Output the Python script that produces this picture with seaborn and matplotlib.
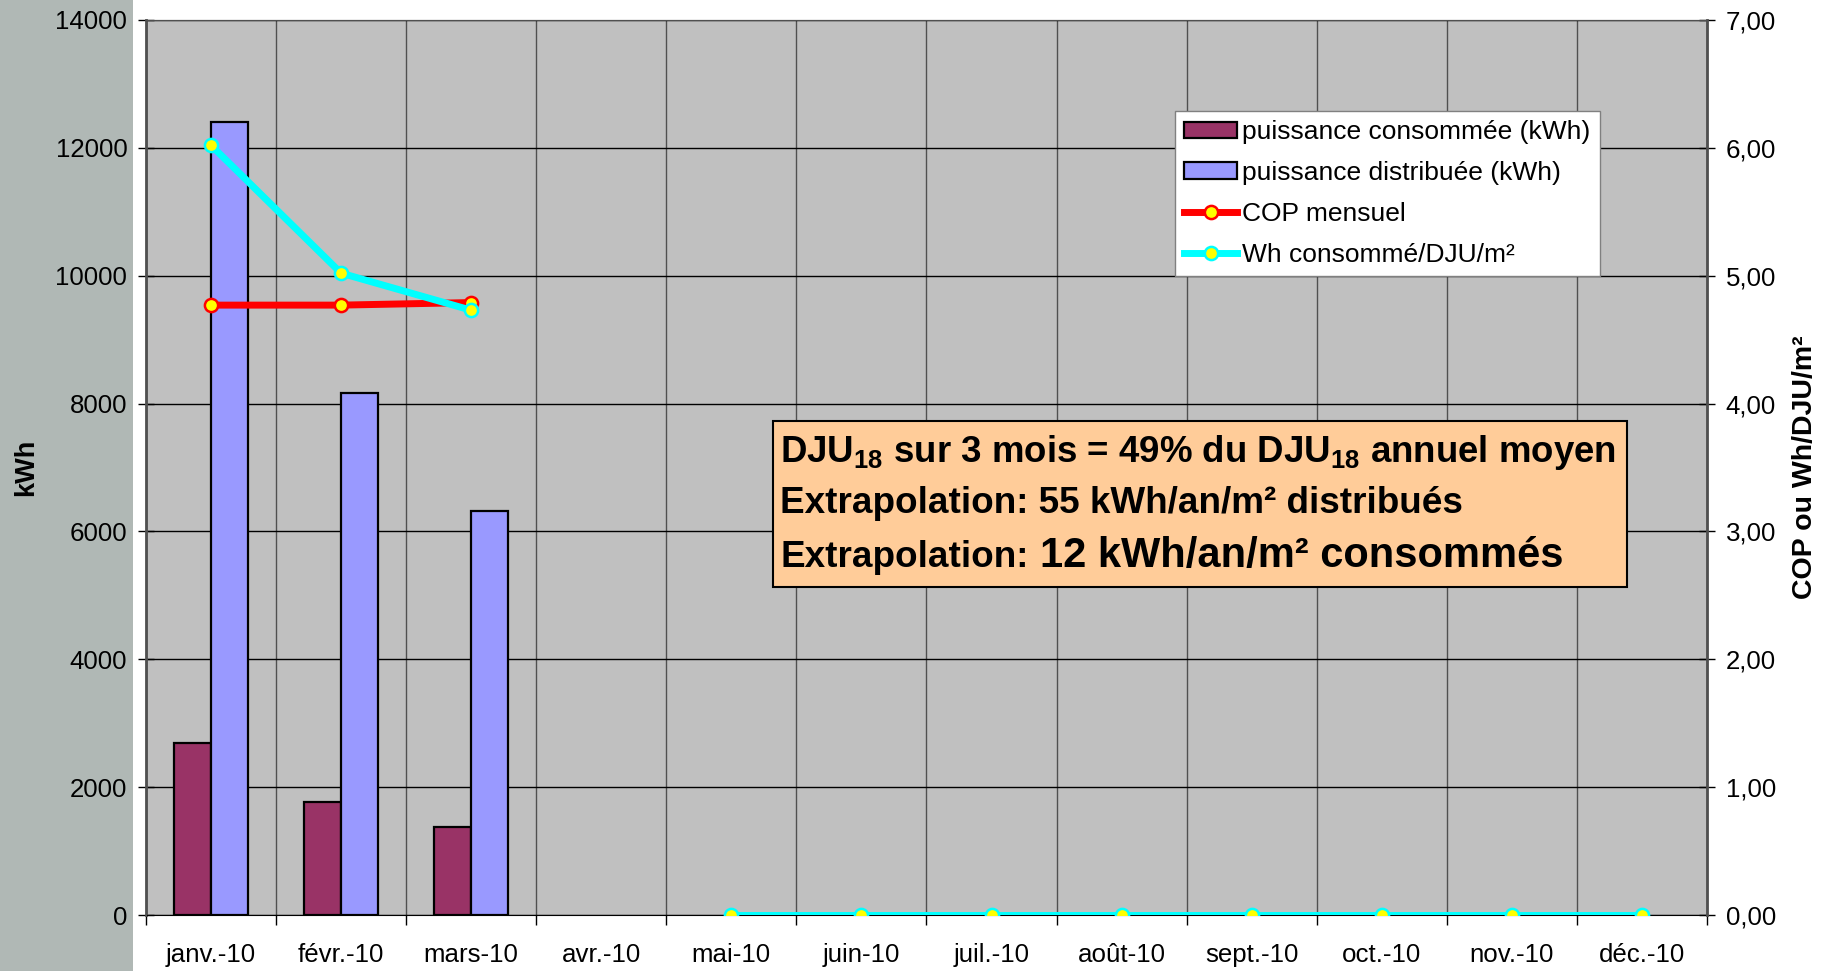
import numpy as np
import pandas as pd
import matplotlib.pyplot as plt
import seaborn as sns
from matplotlib.patches import Patch, Rectangle
from matplotlib.lines import Line2D
from matplotlib.ticker import FuncFormatter, MultipleLocator

plt.switch_backend('Agg')

# Data
months = ['janv.-10', 'févr.-10', 'mars-10', 'avr.-10', 'mai-10', 'juin-10',
          'juil.-10', 'août-10', 'sept.-10', 'oct.-10', 'nov.-10', 'déc.-10']
conso_kwh = [2690, 1770, 1370]
distrib_kwh = [12410, 8170, 6320]
cop_mensuel = [4.77, 4.77, 4.79]
wh_dju_m2 = [6.02, 5.02, 4.73, np.nan, 0, 0, 0, 0, 0, 0, 0, 0]

lbl_conso = 'puissance consommée (kWh)'
lbl_distrib = 'puissance distribuée (kWh)'
lbl_cop = 'COP mensuel'
lbl_wh = 'Wh consommé/DJU/m²'

c_conso = '#993366'
c_distrib = '#9999FF'
c_cop = '#FF0000'
c_wh = '#00FFFF'

plt.rcParams['font.family'] = ['Liberation Sans', 'DejaVu Sans']
plt.rcParams['mathtext.fontset'] = 'custom'
plt.rcParams['mathtext.rm'] = 'Liberation Sans:bold'
plt.rcParams['mathtext.bf'] = 'Liberation Sans:bold'

fig = plt.figure(figsize=(18.29, 9.71), dpi=100)
fig.patches.append(Rectangle((0, 0), 133 / 1829, 1, transform=fig.transFigure,
                             facecolor='#B0B8B5', edgecolor='none', zorder=-5))
ax = fig.add_axes([146 / 1829, 1 - 915 / 971, (1707 - 146) / 1829, (915 - 20) / 971])
ax.set_facecolor('#C0C0C0')

# bars
bars = pd.DataFrame({
    'mois': months[:3] * 2,
    'kwh': conso_kwh + distrib_kwh,
    'serie': [lbl_conso] * 3 + [lbl_distrib] * 3,
})
sns.barplot(data=bars, x='mois', y='kwh', hue='serie', order=months,
            hue_order=[lbl_conso, lbl_distrib],
            palette=[c_conso, c_distrib], width=0.57, gap=0,
            edgecolor='black', linewidth=1.6, saturation=1, legend=False, ax=ax)

ax.set_xlim(-0.5, 11.5)
ax.set_ylim(0, 14000)
ax.yaxis.set_major_locator(MultipleLocator(2000))
ax.set_axisbelow(True)
ax.grid(axis='y', color='black', linewidth=1.0)
ax.set_xticks(np.arange(12))
ax.set_xticklabels(months)
ax.set_xticks(np.arange(-0.5, 12, 1), minor=True)
ax.grid(axis='x', which='minor', color='#505050', linewidth=1.0)
ax.tick_params(axis='x', which='major', length=0, pad=20.5, labelsize=18.6)
ax.tick_params(axis='x', which='minor', length=7, width=1, direction='out')
ax.tick_params(axis='y', length=11, width=1, direction='inout', pad=8, labelsize=18.6)
ax.set_xlabel('')
ax.set_ylabel('')
for s in ['left', 'right', 'top']:
    ax.spines[s].set_color('#505050')
ax.spines['left'].set_linewidth(2)
ax.spines['bottom'].set_color('black')

# lines on secondary axis
ax2 = ax.twinx()
x = np.arange(12)
cop_df = pd.DataFrame({'x': x[:3], 'v': cop_mensuel})
sns.lineplot(data=cop_df, x='x', y='v', color=c_cop, linewidth=5,
             marker='o', markersize=9.5, markerfacecolor='#FFFF00',
             markeredgecolor=c_cop, markeredgewidth=1.8, ax=ax2)
wh = pd.Series(wh_dju_m2)
wh_df = pd.DataFrame({'x': x, 'v': wh, 'seg': wh.isna().cumsum()}).dropna()
sns.lineplot(data=wh_df, x='x', y='v', units='seg', estimator=None,
             color=c_wh, linewidth=5, marker='o', markersize=9.5,
             markerfacecolor='#FFFF00', markeredgecolor=c_wh,
             markeredgewidth=1.8, ax=ax2)
ax2.set_ylim(0, 7)
ax2.set_xlim(-0.5, 11.5)
ax2.yaxis.set_major_locator(MultipleLocator(1))
ax2.yaxis.set_major_formatter(FuncFormatter(lambda v, _: f'{v:.2f}'.replace('.', ',')))
ax2.tick_params(axis='y', length=11, width=1, direction='inout', pad=8, labelsize=18.6)
ax2.set_xlabel('')
ax2.set_ylabel('')
for s in ['left', 'right', 'top']:
    ax2.spines[s].set_color('#505050')
ax2.spines['right'].set_linewidth(2)
ax2.spines['bottom'].set_visible(False)

fig.text(26 / 1829, 0.519, 'kWh', rotation=90, ha='center', va='center',
         fontsize=19.5, fontweight='bold')
fig.text(1805 / 1829, 0.519, 'COP ou Wh/DJU/m²', rotation=90, ha='center',
         va='center', fontsize=20.5, fontweight='bold')

# legend
handles = [
    Patch(facecolor=c_conso, edgecolor='black', linewidth=1.6),
    Patch(facecolor=c_distrib, edgecolor='black', linewidth=1.6),
    Line2D([], [], color=c_cop, linewidth=5, marker='o', markersize=9.5,
           markerfacecolor='#FFFF00', markeredgecolor=c_cop, markeredgewidth=1.8),
    Line2D([], [], color=c_wh, linewidth=5, marker='o', markersize=9.5,
           markerfacecolor='#FFFF00', markeredgecolor=c_wh, markeredgewidth=1.8),
]
leg = ax2.legend(handles, [lbl_conso, lbl_distrib, lbl_cop, lbl_wh],
                 loc='upper left', bbox_to_anchor=(0.6592, 0.8983),
                 fontsize=19, frameon=True, fancybox=False, framealpha=1,
                 edgecolor='#808080', facecolor='white', handlelength=2.0,
                 handleheight=0.6, handletextpad=0.2, labelspacing=0.64,
                 borderpad=0.35, borderaxespad=0)
leg.get_frame().set_linewidth(1)
leg.set_zorder(10)

# annotation box
ax2.add_patch(Rectangle((0.4017, 0.3665), 0.9488 - 0.4017, 0.552 - 0.3665,
                        transform=ax2.transAxes, facecolor='#FFCC99',
                        edgecolor='black', linewidth=1.5, zorder=8))
txt_kw = dict(transform=ax2.transAxes, ha='left', va='baseline',
              fontweight='bold', zorder=9)
ax2.text(0.4062, 0.5061,
         r'DJU$_{18}$ sur 3 mois = 49% du DJU$_{18}$ annuel moyen',
         fontsize=26.4, **txt_kw)
ax2.text(0.4062, 0.4492, 'Extrapolation: 55 kWh/an/m² distribués',
         fontsize=26.6, **txt_kw)
ax2.text(0.4062, 0.3888, 'Extrapolation:', fontsize=26.6, **txt_kw)
ax2.text(0.5727, 0.3888, '12 kWh/an/m² consommés', fontsize=30, **txt_kw)

fig.savefig('out.png', dpi=100)
